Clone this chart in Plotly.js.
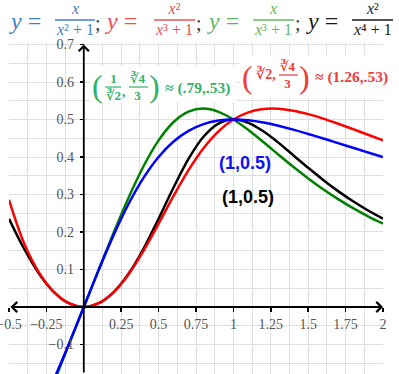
<!DOCTYPE html>
<html><head><meta charset="utf-8">
<script src="https://cdn.plot.ly/plotly-3.0.1.min.js"></script>
<style>html,body{margin:0;padding:0;background:#fff;}#chart{width:399px;height:374px;}</style>
</head><body><div id="chart"></div>
<script>
const xs = [-0.5,-0.4,-0.3,-0.2,-0.1,0,0.1,0.2,0.3,0.4,0.5,0.6,0.7,0.8,0.9,1.0,1.1,1.2,1.3,1.4,1.5,1.6,1.7,1.8,1.9,2.0];
const blueY  = [-0.4,-0.3448,-0.2752,-0.1923,-0.0990,0,0.0990,0.1923,0.2752,0.3448,0.4,0.4412,0.4698,0.4878,0.4972,0.5,0.4977,0.4918,0.4833,0.4730,0.4615,0.4494,0.4370,0.4245,0.4121,0.4];
const redY   = [0.2857,0.1709,0.0925,0.0403,0.0100,0,0.0100,0.0397,0.0876,0.1504,0.2222,0.2961,0.3649,0.4233,0.4685,0.5,0.5191,0.5279,0.5286,0.5235,0.5143,0.5024,0.4888,0.4742,0.4594,0.4444];
const greenY = [-0.5714,-0.4274,-0.3083,-0.2016,-0.1001,0,0.0999,0.1984,0.2921,0.3759,0.4444,0.4934,0.5212,0.5291,0.5205,0.5,0.4719,0.4399,0.4066,0.3739,0.3429,0.3140,0.2875,0.2635,0.2418,0.2222];
const blackY = [0.2353,0.1560,0.0893,0.0399,0.0100,0,0.0100,0.0399,0.0893,0.1560,0.2353,0.3187,0.3951,0.4540,0.4891,0.5,0.4911,0.4685,0.4383,0.4048,0.3711,0.3389,0.3090,0.2818,0.2573,0.2353];

const xTickVals = [-0.5,-0.25,0.25,0.5,0.75,1,1.25,1.5,1.75,2];
const xTickText = ['−0.5','−0.25','0.25','0.5','0.75','1','1.25','1.5','1.75','2'];
const yTickVals = [-0.1,0.1,0.2,0.3,0.4,0.5,0.6,0.7];
const yTickText = ['−0.1','0.1','0.2','0.3','0.4','0.5','0.6','0.7'];

const xRange = [-0.5, 2];
const yRange = [-0.1787, 0.704];

const W = 399, H = 374, M = {l:9, r:16, t:43, b:0};
const PW = W - M.l - M.r, PH = H - M.t - M.b;
const px = v => (v - M.l) / PW;
const py = v => (H - M.b - v) / PH;

const traces = [
  {x: xs, y: greenY, color: '#008000'},
  {x: xs, y: blackY, color: '#000000'},
  {x: xs, y: redY,   color: '#ff0000'},
  {x: xs, y: blueY,  color: '#0000ff'}
].map(t => ({x: t.x, y: t.y, type: 'scatter', mode: 'lines',
  line: {color: t.color, width: 2.5, shape: 'spline'}, hoverinfo: 'none'}));

const serif = 'Liberation Serif, DejaVu Serif, serif';
const ann = [];
const shapes = [];
function txt(t, x, y, size, color, opts) {
  ann.push(Object.assign({text: t, xref: 'paper', yref: 'paper', x: px(x), y: py(y),
    xanchor: 'center', yanchor: 'middle', showarrow: false, borderpad: 0,
    font: {family: serif, size: size, color: color}}, opts || {}));
}
function bar(x0, x1, y, color, w) {
  shapes.push({type: 'line', xref: 'paper', yref: 'paper', x0: px(x0), x1: px(x1), y0: py(y), y1: py(y),
    line: {color: color, width: w || 1.3}, layer: 'above'});
}
function box(x0, x1, y0, y1) {
  shapes.push({type: 'rect', xref: 'paper', yref: 'paper', x0: px(x0), x1: px(x1), y0: py(y0), y1: py(y1),
    fillcolor: '#ffffff', line: {width: 0}, layer: 'above'});
}

// Title formulas
const tb = '#3f7fbf', tr = '#e8504f', tg = '#62b862', tk = '#1a1a1a';
const formulas = [
  {c: tb, eq: 25, fc: 75, b0: 55, b1: 95, num: '<i>x</i>', den: '<i>x</i>² + 1', semi: 98},
  {c: tr, eq: 121, fc: 174, b0: 154, b1: 195, num: '<i>x</i>²', den: '<i>x</i>³ + 1', semi: 199},
  {c: tg, eq: 223, fc: 273, b0: 253, b1: 294, num: '<i>x</i>', den: '<i>x</i>³ + 1', semi: 298},
  {c: tk, eq: 322, fc: 372, b0: 352, b1: 393, num: '<i>x</i>²', den: '<i>x</i>⁴ + 1', semi: null}
];
formulas.forEach(f => {
  txt('<i>y</i> =', f.eq, 20.5, 24, f.c);
  txt(f.num + '<br>' + f.den, f.fc, 19.5, 16, f.c);
  bar(f.b0, f.b1, 20, f.c, 1.3);
  if (f.semi) txt(';', f.semi, 22.5, 20, '#333');
});

// Green extremum label
const gc = '#33b06a';
box(90, 237, 66, 102);
txt('(', 97, 86, 32, gc);
txt('<b>1</b><br><b>∛2</b>', 113, 87, 13, gc);
bar(105, 121, 87, gc, 1.2);
txt('<b>,</b>', 124, 91, 14, gc);
txt('<b>∛4</b><br><b>3</b>', 138, 87, 13, gc);
bar(129, 148, 87, gc, 1.2);
txt(')', 154, 86, 32, gc);
txt('<b>≈ (.79,.53)</b>', 197, 88, 15.5, gc);

// Red extremum label
const rc = '#f03c3c';
box(240, 399, 55, 98);
txt('(', 247, 77, 32, rc);
txt('<b>∛2,</b>', 266, 74, 14, rc);
txt('<b>∛4</b><br><b>3</b>', 288, 75, 13, rc);
bar(279, 298, 75, rc, 1.2);
txt(')', 304, 77, 32, rc);
txt('<b>≈ (1.26,.53)</b>', 351, 77, 15.5, rc);

// Point labels
txt('<b>(1,0.5)</b>', 245, 163, 18, '#1010f0', {font: {family: 'Liberation Sans, Arial, sans-serif', size: 18, color: '#1010f0'}});
txt('<b>(1,0.5)</b>', 248, 197, 18, '#000', {font: {family: 'Liberation Sans, Arial, sans-serif', size: 18, color: '#000'}});

// Axis arrows
ann.push({xref: 'x', yref: 'y', axref: 'x', ayref: 'y', x: xRange[1], y: 0, ax: xRange[0], ay: 0,
  text: '', showarrow: true, arrowside: 'end+start', arrowhead: 4, startarrowhead: 4,
  arrowsize: 1.1, startarrowsize: 1.1, arrowwidth: 1.8, arrowcolor: '#000', standoff: 0, startstandoff: 0});
ann.push({xref: 'x', yref: 'y', axref: 'x', ayref: 'y', x: 0, y: 0.7, ax: 0, ay: yRange[0],
  text: '', showarrow: true, arrowhead: 4, arrowsize: 1.1, arrowwidth: 1.8, arrowcolor: '#000', standoff: 0});

const grid = '#dedede';
const tickFont = {family: serif, size: 14, color: '#555'};
const layout = {
  width: W, height: H, margin: M, showlegend: false,
  paper_bgcolor: '#fff', plot_bgcolor: '#fff',
  xaxis: {range: xRange, tickmode: 'array', tickvals: xTickVals, ticktext: xTickText,
    showgrid: true, gridcolor: grid, gridwidth: 1, zeroline: false, showline: false,
    minor: {tickmode: 'linear', tick0: 0, dtick: 0.125, showgrid: true, gridcolor: grid, gridwidth: 1, ticks: ''},
    anchor: 'free', position: (0 - yRange[0]) / (yRange[1] - yRange[0]),
    ticks: 'outside', ticklen: 4, tickwidth: 1.5, tickcolor: '#000', tickfont: tickFont,
    ticklabeloverflow: 'allow', fixedrange: true},
  yaxis: {range: yRange, tickmode: 'array', tickvals: yTickVals, ticktext: yTickText,
    showgrid: true, gridcolor: grid, gridwidth: 1, zeroline: false, showline: false,
    minor: {tickmode: 'linear', tick0: 0, dtick: 0.05, showgrid: true, gridcolor: grid, gridwidth: 1, ticks: ''},
    anchor: 'free', position: (0 - xRange[0]) / (xRange[1] - xRange[0]),
    ticks: 'outside', ticklen: 4, tickwidth: 1.5, tickcolor: '#000', tickfont: tickFont, ticklabelstandoff: 3,
    ticklabeloverflow: 'allow', fixedrange: true},
  annotations: ann, shapes: shapes
};
Plotly.newPlot('chart', traces, layout, {staticPlot: true, displayModeBar: false});
</script></body></html>
